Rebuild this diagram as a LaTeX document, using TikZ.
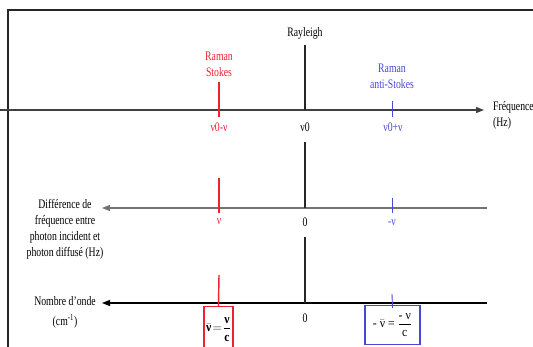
\documentclass[tikz,border=0pt]{standalone}
\usepackage{amsmath}
\usepackage{fontspec}
\setmainfont{Liberation Serif}[FakeStretch=0.75]
\newfontfamily\boxfont{Liberation Serif}[FakeStretch=0.9]
\usepackage{xcolor}
\definecolor{ramanred}{RGB}{237,34,48}
\definecolor{ramanblue}{RGB}{72,72,214}
\definecolor{axisgray}{RGB}{115,115,115}
\usepackage{tikz}
\usetikzlibrary{arrows.meta, positioning}

\begin{document}
\begin{tikzpicture}[x=1pt, y=-1pt,
  lbl/.style={inner sep=0pt, font=\fontsize{13}{16}\selectfont, align=center},
  axis/.style={line width=1.2pt, -{Triangle[length=8pt, width=6pt]}},
  rayl/.style={line width=1.1pt, black!85},
  stk/.style={line width=1.4pt, ramanred},
  astk/.style={line width=0.9pt, ramanblue},
  fracbox/.style={draw, line width=1.2pt, inner sep=1pt, anchor=north, font=\boxfont\fontsize{13}{15}\selectfont}
]
\useasboundingbox (0,0) rectangle (533,347);
\clip (0,0) rectangle (533,347);
\draw[black!85, line width=1.1pt] (8,360) -- (8,10) -- (545,10);

\coordinate (f0) at (0,110);   \coordinate (f1) at (484,110);
\coordinate (d0) at (487,208); \coordinate (d1) at (102,208);
\coordinate (w0) at (487,303); \coordinate (w1) at (102,303);
\draw[axis, black!75] (f0) -- (f1);
\draw[axis, axisgray] (d0) -- (d1);
\draw[axis, black] (w0) -- (w1);

\node[lbl] (ray) at (305,33) {Rayleigh};
\node[lbl, ramanred] (stokes) at (219,64) {Raman\\Stokes};
\node[lbl, ramanblue] (astokes) at (392,76) {Raman\\anti-Stokes};
\node[lbl, anchor=west, align=left] (freq) at (493,115) {Fréquence\\(Hz)};
\node[lbl, ramanred] (q1) at (219,127) {ν0-ν};
\node[lbl] (q2) at (305,127) {ν0};
\node[lbl, ramanblue] (q3) at (393,127) {ν0+ν};
\node[lbl] (diff) at (65,229) {Différence de\\fréquence entre\\photon incident et\\photon diffusé (Hz)};
\node[lbl, ramanred] (p1) at (219,222) {ν};
\node[lbl] (p2) at (305,222) {0};
\node[lbl, ramanblue] (p3) at (392,223) {-ν};
\node[lbl, font=\fontsize{13}{20}\selectfont] (onde) at (65,312) {Nombre d’onde\\(cm\textsuperscript{-1})};
\node[lbl] (w2) at (305,318) {0};
\node[fracbox, ramanred, minimum width=29pt, minimum height=46pt, inner sep=0.5pt, text=black] (wred) at (218.5,306)
  {\bfseries $\bar{\text{ν}}\!=\!\dfrac{\text{ν}\rule[-3pt]{0pt}{3pt}}{\rule{0pt}{12pt}\text{c}}$};
\node[fracbox, ramanblue, minimum width=55pt, minimum height=39pt, text=black] (wblue) at (392.5,305)
  {- $\bar{\text{ν}}$ = $\dfrac{\text{- ν}\rule[-2pt]{0pt}{2pt}}{\rule{0pt}{11pt}\text{c}}$};

\coordinate (r0) at (305,45);  \coordinate (r1) at (305,142);
\coordinate (r2) at (305,208); \coordinate (r3) at (305,237);
\draw[rayl] (r0) -- (ray |- f0);
\draw[rayl] (r1) -- (r2);
\draw[rayl] (r3) -- (ray |- w0);

\coordinate (s0) at (219,82);  \coordinate (s1) at (219,117);
\coordinate (s2) at (219,178); \coordinate (s3) at (219,213);
\coordinate (s4) at (219,275);
\draw[stk] (s0) -- (s1);
\draw[stk] (s2) -- (s3);
\draw[stk] (s4) -- (wred.north);

\coordinate (a0) at (392,101); \coordinate (a1) at (392,117);
\coordinate (a2) at (392,198); \coordinate (a3) at (392,213);
\coordinate (a4) at (392,294);
\draw[astk] (a0) -- (a1);
\draw[astk] (a2) -- (a3);
\draw[astk] (a4) -- ([yshift=-3pt]wblue.north);
\end{tikzpicture}
\end{document}
